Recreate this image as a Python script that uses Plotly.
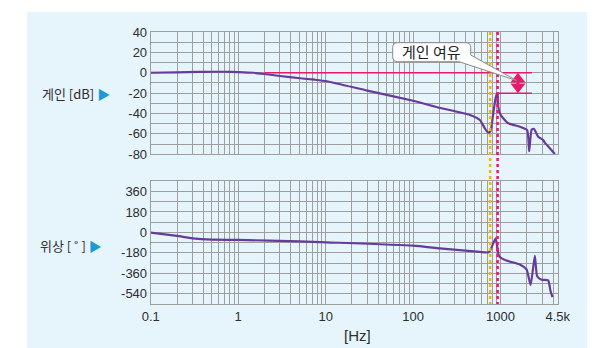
import math
import plotly.graph_objects as go

# ---------------- data ----------------
gain_freq = [0.1, 0.2, 0.35, 0.5, 0.7, 1.0, 1.5, 2.0, 3.0, 5.1, 7.5, 10.3, 30, 100, 200, 447,
             580, 661, 721, 769, 824, 884, 925, 940, 981, 1072, 1222, 1663, 2014, 2123,
             2261, 2404, 2691, 3069, 3207, 3658, 4176]
gain_db = [0, 0.4, 0.9, 1.0, 1.0, 0.7, 0, -1.2, -3.2, -5.4, -6.8, -8.3, -17.5, -27.5, -34.3, -41.4,
           -46.3, -54.5, -58.8, -57, -40, -23.5, -20, -33, -39.8, -44.7, -49.6, -52.9, -56.2, -77,
           -56, -55, -62.7, -66, -68.6, -74.1, -79.7]

phase_freq = [0.1, 0.2, 0.3, 0.5, 1.0, 5, 10.3, 100, 202, 580, 721, 760, 877, 925, 964,
              1165, 1663, 1982, 2205, 2466, 2620, 2941, 3500, 3725, 3925]
phase_deg = [-2, -31, -52, -64, -66, -78, -87, -117, -140, -172, -176, -160, -52, -146, -210,
             -247, -282, -326, -462, -206, -385, -416, -422, -515, -570]

freq_tickvals = [0.1, 1, 10, 100, 1000, 4500]
freq_ticktext = ["0.1", "1", "10", "100", "1000", "4.5k"]
gain_tickvals = [-80, -60, -40, -20, 0, 20, 40]
gain_ticktext = ["-80", "-60", "-40", "-20", "0", "20", "40"]
phase_tickvals = [-540, -360, -180, 0, 180, 360]
phase_ticktext = ["-540", "-360", "-180", "0", "180", "360"]

gain_cross_freq = 760      # orange dotted line
phase_cross_freq = 925     # pink dotted line
gm_line_start = 2.0
gm_line_end = 2280
gm_arrow_freq = 1580
gm_top_db = 0
gm_bottom_db = -20

# ---------------- layout helpers ----------------
# the html body has an 8px margin, so the figure starts at (8, 8) in the window
OFF = 8
W, H = 604 - OFF, 348 - OFF
FMIN, FMAX = 0.1, 4500


def px(x):
    return (x - OFF) / W


def py(y):
    return 1 - (y - OFF) / H


X0, X1 = px(150.7), px(557.7)


def fx(f):
    return X0 + (math.log10(f) - math.log10(FMIN)) / (math.log10(FMAX) - math.log10(FMIN)) * (X1 - X0)


minor_freqs = [m * 10 ** e for e in range(-1, 4) for m in range(2, 10) if m * 10 ** e < FMAX]

GRID = "#9e9e9e"
PURPLE = "#653c9c"
PINK = "#e8186a"
ORANGE = "#f0b128"
TXT = "#2e2e2e"
TICKFONT = dict(family="Liberation Sans, Arial, sans-serif", size=13, color=TXT)
KFONT = "Noto Sans CJK KR, sans-serif"

fig = go.Figure()

# gain curve
fig.add_trace(go.Scatter(x=gain_freq, y=gain_db, mode="lines", xaxis="x", yaxis="y",
                         line=dict(color=PURPLE, width=2.2, shape="spline", smoothing=0.5),
                         showlegend=False, hoverinfo="skip"))
# phase curve
fig.add_trace(go.Scatter(x=phase_freq, y=phase_deg, mode="lines", xaxis="x2", yaxis="y2",
                         line=dict(color=PURPLE, width=2.2, shape="spline", smoothing=0.5),
                         showlegend=False, hoverinfo="skip"))

# gain margin reference lines
fig.add_trace(go.Scatter(x=[gm_line_start, gm_line_end], y=[gm_top_db, gm_top_db], mode="lines",
                         xaxis="x", yaxis="y", line=dict(color=PINK, width=1.5),
                         showlegend=False, hoverinfo="skip"))
fig.add_trace(go.Scatter(x=[phase_cross_freq, gm_line_end], y=[gm_bottom_db, gm_bottom_db], mode="lines",
                         xaxis="x", yaxis="y", line=dict(color=PINK, width=1.5),
                         showlegend=False, hoverinfo="skip"))
# double arrow
db_per_px = 120 / 122.3
off = 6.5 * db_per_px
fig.add_trace(go.Scatter(x=[gm_arrow_freq, gm_arrow_freq], y=[gm_top_db - 3, gm_bottom_db + 3], mode="lines",
                         xaxis="x", yaxis="y", line=dict(color=PINK, width=3),
                         showlegend=False, hoverinfo="skip"))
fig.add_trace(go.Scatter(x=[gm_arrow_freq, gm_arrow_freq], y=[gm_top_db - off, gm_bottom_db + off],
                         mode="markers", xaxis="x", yaxis="y",
                         marker=dict(symbol=["triangle-up", "triangle-down"], size=13, color=PINK,
                                     line=dict(width=0)),
                         showlegend=False, hoverinfo="skip"))

shapes = []
# light blue panel
shapes.append(dict(type="rect", xref="paper", yref="paper", x0=px(27), x1=px(587), y0=0, y1=py(12),
                   fillcolor="#e6f4fb", line=dict(width=0), layer="below"))
# dotted vertical lines
for f, c in [(gain_cross_freq, ORANGE), (phase_cross_freq, PINK)]:
    shapes.append(dict(type="line", xref="paper", yref="paper", x0=fx(f), x1=fx(f),
                       y0=py(32), y1=py(304), line=dict(color=c, width=2.5, dash="dot"), layer="above"))

# callout box with tail
L, R, T, B, r = 392.7, 470.7, 42.7, 61.7, 5
tip = (516.5, 80.5)


def P(x, y):
    return f"{px(x):.5f},{py(y):.5f}"


path = (f"M{P(L + r, T)} L{P(R - r, T)} Q{P(R, T)} {P(R, T + r)} L{P(R, 55)} "
        f"L{P(*tip)} L{P(459, B)} L{P(L + r, B)} Q{P(L, B)} {P(L, B - r)} "
        f"L{P(L, T + r)} Q{P(L, T)} {P(L + r, T)} Z")
shapes.append(dict(type="path", xref="paper", yref="paper", path=path, fillcolor="white",
                   line=dict(color="#8a8a8a", width=1), layer="above"))

annotations = [
    dict(x=px(431.7), y=py(52), xref="paper", yref="paper", text="게인 여유", showarrow=False,
         font=dict(family=KFONT, size=15, color="#222222"), xanchor="center", yanchor="middle"),
    dict(x=px(40), y=py(93.5), xref="paper", yref="paper",
         text="게인 [dB] <span style='color:#1b9bd1'>▶</span>", showarrow=False,
         font=dict(family=KFONT, size=13, color=TXT), xanchor="left", yanchor="middle"),
    dict(x=px(38), y=py(245), xref="paper", yref="paper",
         text="위상 [ ˚ ] <span style='color:#1b9bd1'>▶</span>", showarrow=False,
         font=dict(family=KFONT, size=13, color=TXT), xanchor="left", yanchor="middle"),
    dict(x=px(357), y=py(335), xref="paper", yref="paper", text="[Hz]", showarrow=False,
         font=dict(family="Liberation Sans, Arial, sans-serif", size=15, color=TXT),
         xanchor="center", yanchor="middle"),
]

xcommon = dict(type="log", range=[math.log10(FMIN), math.log10(FMAX)], domain=[X0, X1],
               tickmode="array", tickvals=freq_tickvals, ticktext=freq_ticktext,
               showgrid=True, gridcolor=GRID, gridwidth=1,
               minor=dict(tickmode="array", tickvals=minor_freqs, showgrid=True, gridcolor=GRID,
                          gridwidth=1, ticks=""),
               showline=True, linecolor=GRID, linewidth=1, mirror=True, ticks="",
               tickfont=TICKFONT, zeroline=False, fixedrange=True, automargin=False)

ycommon = dict(showgrid=True, gridcolor=GRID, showline=True, linecolor=GRID, linewidth=1, mirror=True,
               ticks="", zeroline=False, tickfont=TICKFONT, automargin=False, fixedrange=True,
               tickmode="array")

fig.update_layout(
    template="none",
    width=W, height=H, autosize=False,
    margin=dict(l=0, r=0, t=0, b=0, pad=0),
    paper_bgcolor="white", plot_bgcolor="white",
    xaxis=dict(**xcommon, anchor="y", showticklabels=False),
    xaxis2=dict(**xcommon, anchor="y2", showticklabels=True),
    yaxis=dict(**ycommon, domain=[py(154.3), py(32)], range=[-80, 40],
               tickvals=gain_tickvals, ticktext=gain_ticktext,
               minor=dict(dtick=10, tick0=0, showgrid=True, gridcolor=GRID, ticks=""),
               anchor="x"),
    yaxis2=dict(**ycommon, domain=[py(304), py(181.3)], range=[-630, 450],
                tickvals=phase_tickvals, ticktext=phase_ticktext,
                minor=dict(dtick=90, tick0=0, showgrid=True, gridcolor=GRID, ticks=""),
                anchor="x2"),
    shapes=shapes,
    annotations=annotations,
    showlegend=False,
)

fig.write_html("out.html")
